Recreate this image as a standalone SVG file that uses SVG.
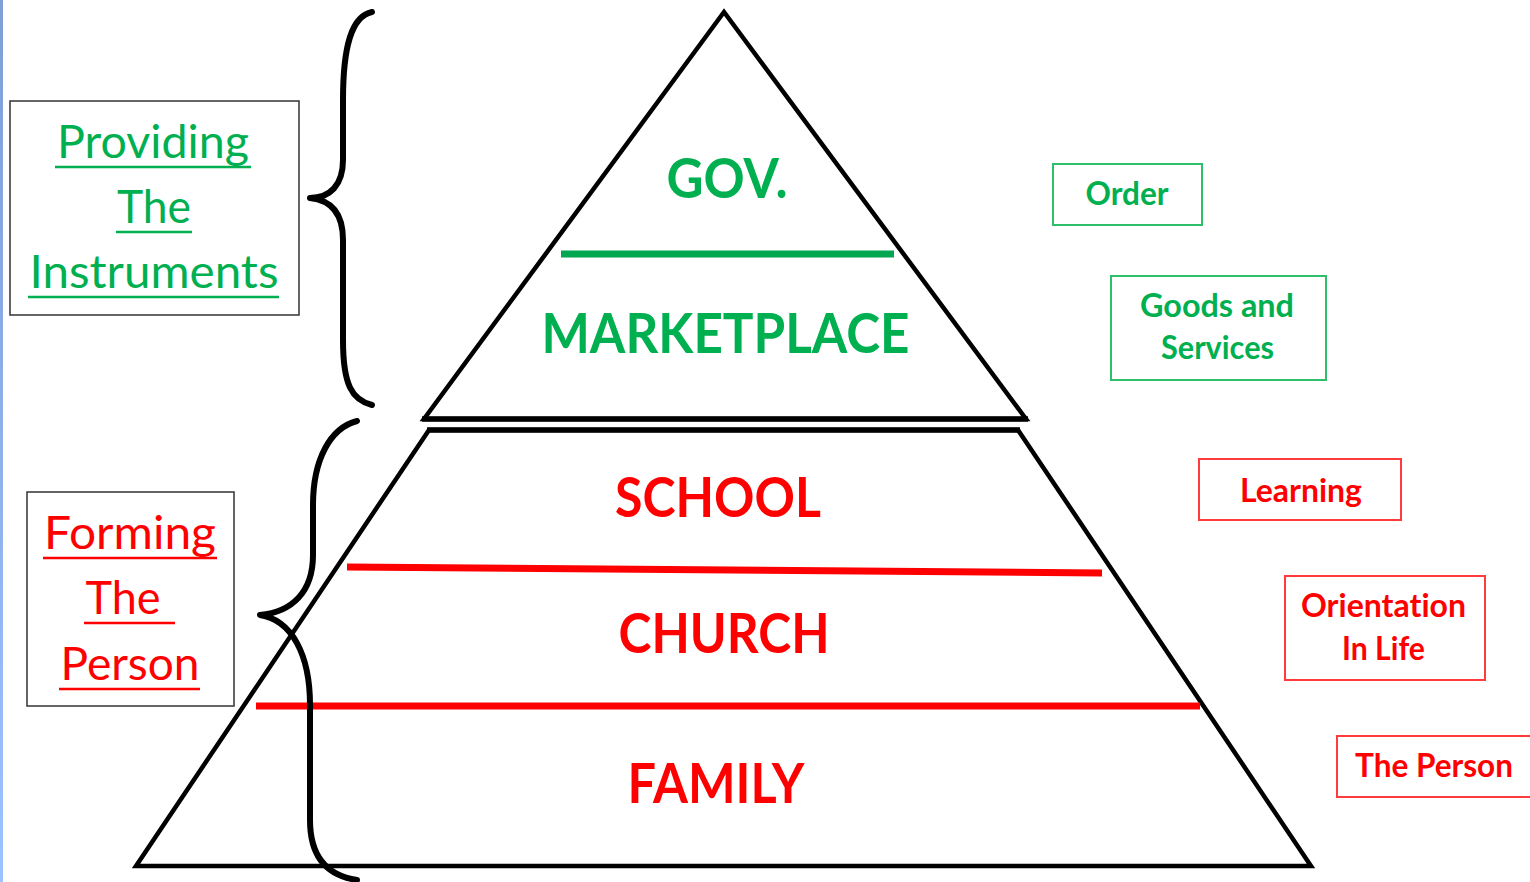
<svg xmlns="http://www.w3.org/2000/svg" width="1530" height="882" viewBox="0 0 1530 882">
<defs>
<linearGradient id="strip" x1="0" y1="0" x2="0" y2="1">
<stop offset="0" stop-color="#7f9fd6"/>
<stop offset="1" stop-color="#9cc2ff"/>
</linearGradient>
</defs>
<style>
text{font-variant-ligatures:none}
.shape{fill:none;stroke:#000;stroke-width:4.5;stroke-linejoin:miter}
.brace{fill:none;stroke:#000;stroke-width:6;stroke-linecap:round;stroke-linejoin:round}
.big{font-family:Lato,"Liberation Sans",sans-serif;font-weight:bold;font-size:56px;text-anchor:middle}
.sm{font-family:Lato,"Liberation Sans",sans-serif;font-weight:bold;font-size:32px;text-anchor:middle}
.lbl{font-family:Lato,"Open Sans","Liberation Sans",sans-serif;font-size:46px;text-anchor:middle}
.g{fill:#00b050}
.r{fill:#ff0000}
.gbox{fill:none;stroke:#2fbf6a;stroke-width:2}
.rbox{fill:none;stroke:#ff3b3b;stroke-width:2}
.kbox{fill:none;stroke:#333;stroke-width:1.5}
.ug{stroke:#00b050;stroke-width:2.5}
.ur{stroke:#ff0000;stroke-width:2.5}
</style>
<rect x="0" y="0" width="1530" height="882" fill="#fff"/>
<rect x="0" y="0" width="3" height="882" fill="url(#strip)"/>

<g id="pyramid-top">
<polygon class="shape" points="724,12 424,419 1026,419"/>
<line x1="422" y1="419" x2="1028" y2="419" stroke="#000" stroke-width="5.5"/>
<line x1="561" y1="254" x2="894" y2="254" stroke="#00a650" stroke-width="7"/>
</g>
<g id="pyramid-bottom">
<polygon class="shape" points="429,430 1018,430 1311,866 136,866"/>
<line x1="427" y1="430" x2="1020" y2="430" stroke="#000" stroke-width="5.5"/>
<line x1="347" y1="567" x2="1102" y2="573" stroke="#ff0000" stroke-width="7"/>
<line x1="256" y1="706" x2="1200" y2="706" stroke="#ff0000" stroke-width="7"/>
</g>

<g id="gov"><text class="big g" x="727" y="198" textLength="121" lengthAdjust="spacingAndGlyphs">GOV.</text></g>
<g id="marketplace"><text class="big g" x="725.5" y="353" textLength="368" lengthAdjust="spacingAndGlyphs">MARKETPLACE</text></g>
<g id="school"><text class="big r" x="718" y="517" textLength="206" lengthAdjust="spacingAndGlyphs">SCHOOL</text></g>
<g id="church"><text class="big r" x="724" y="653" textLength="211" lengthAdjust="spacingAndGlyphs">CHURCH</text></g>
<g id="family"><text class="big r" x="716" y="803" textLength="177" lengthAdjust="spacingAndGlyphs">FAMILY</text></g>

<g id="providing">
<rect class="kbox" x="10" y="101" width="289" height="214"/>
<text class="lbl g" x="153" y="158" textLength="192" lengthAdjust="spacingAndGlyphs">Providing</text>
<line class="ug" x1="55" y1="167" x2="251" y2="167"/>
<text class="lbl g" x="154" y="223" textLength="74" lengthAdjust="spacingAndGlyphs">The</text>
<line class="ug" x1="116" y1="232" x2="192" y2="232"/>
<text class="lbl g" x="154" y="288" textLength="249" lengthAdjust="spacingAndGlyphs">Instruments</text>
<line class="ug" x1="28" y1="297" x2="279" y2="297"/>
</g>

<g id="forming">
<rect class="kbox" x="27" y="492" width="207" height="214"/>
<text class="lbl r" x="130" y="549" textLength="172" lengthAdjust="spacingAndGlyphs">Forming</text>
<line class="ur" x1="43" y1="558" x2="217" y2="558"/>
<text class="lbl r" x="123" y="614" textLength="75" lengthAdjust="spacingAndGlyphs">The</text>
<line class="ur" x1="84" y1="623" x2="175" y2="623"/>
<text class="lbl r" x="130" y="680" textLength="139" lengthAdjust="spacingAndGlyphs">Person</text>
<line class="ur" x1="59" y1="689" x2="200" y2="689"/>
</g>

<g id="order">
<rect class="gbox" x="1053" y="164" width="149" height="61"/>
<text class="sm g" x="1127" y="205" textLength="83" lengthAdjust="spacingAndGlyphs">Order</text>
</g>
<g id="goods">
<rect class="gbox" x="1111" y="276" width="215" height="104"/>
<text class="sm g" x="1217" y="317" textLength="154" lengthAdjust="spacingAndGlyphs">Goods and</text>
<text class="sm g" x="1217.5" y="359" textLength="113" lengthAdjust="spacingAndGlyphs">Services</text>
</g>
<g id="learning">
<rect class="rbox" x="1199" y="459" width="202" height="61"/>
<text class="sm r" x="1301" y="502" textLength="122" lengthAdjust="spacingAndGlyphs">Learning</text>
</g>
<g id="orientation">
<rect class="rbox" x="1285" y="576" width="200" height="104"/>
<text class="sm r" x="1383.5" y="617" textLength="165" lengthAdjust="spacingAndGlyphs">Orientation</text>
<text class="sm r" x="1383.5" y="660" textLength="83" lengthAdjust="spacingAndGlyphs">In Life</text>
</g>
<g id="the-person">
<rect class="rbox" x="1337" y="736" width="200" height="61"/>
<text class="sm r" x="1434" y="777" textLength="158" lengthAdjust="spacingAndGlyphs">The Person</text>
</g>

<g id="connectors">
<path class="brace" d="M372,12 C352,16 343,45 343,100 L343,160 C343,185 330,198 310,198 C330,200 343,212 343,240 L343,340 C343,385 352,400 372,405"/>
<path class="brace" d="M357,421 C330,428 313,460 313,505 L313,555 C313,592 292,612 260,615 C292,620 310,655 310,705 L310,820 C310,860 330,876 357,880"/>
</g>
</svg>
